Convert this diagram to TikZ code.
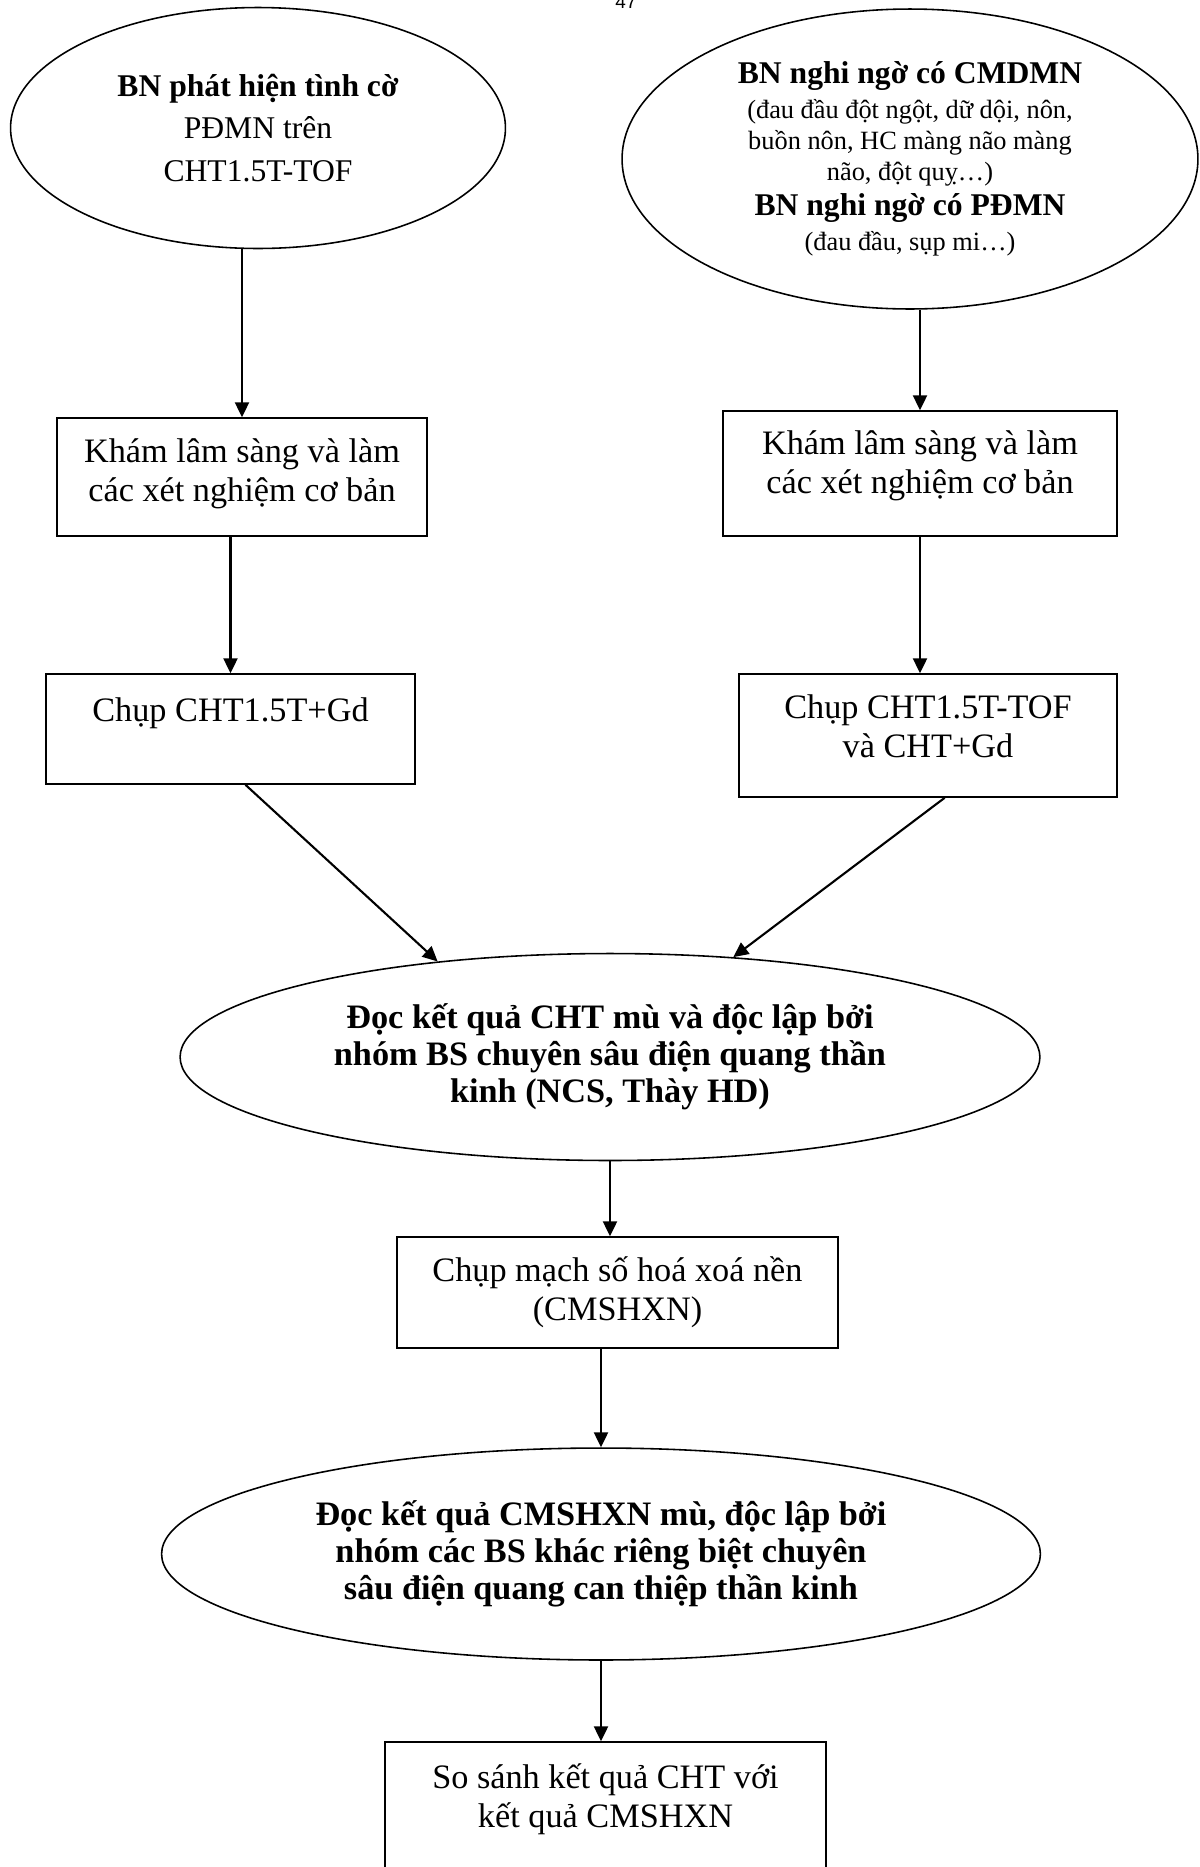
\documentclass[tikz,border=0pt]{standalone}
\usepackage{fontspec}
\setmainfont{Liberation Serif}
\newfontfamily\pagefont{Liberation Sans}
\usetikzlibrary{shapes.geometric,arrows.meta}

\begin{document}
\begin{tikzpicture}[x=0.02cm, y=-0.02cm,
    stepbox/.style={draw, line width=0.9pt, rectangle, inner sep=0pt, align=center,
        font=\fontsize{19.5}{22}\selectfont},
    oval/.style={draw, line width=0.9pt, ellipse, inner sep=0pt, align=center,
        font=\fontsize{19.5}{21}\selectfont\bfseries},
    arr/.style={line width=1.2pt, -{Triangle[length=8.5pt, width=8pt]}}]
    \useasboundingbox (0,0) rectangle (1200,1867);

    \node[font=\pagefont\fontsize{10.8}{12}\selectfont, anchor=base, inner sep=0pt] (pagenum) at (626,8) {47};

    \node[oval, font=\fontsize{18}{24}\selectfont, minimum width=9.9cm, minimum height=4.82cm] (found) at (258,128)
        {\textbf{BN phát hiện tình cờ}\\PĐMN trên\\CHT1.5T-TOF};
    \node[oval, font=\fontsize{15}{17.5}\selectfont, minimum width=11.52cm, minimum height=6cm] (suspect) at (910,159)
        {{\fontsize{18}{20}\selectfont\bfseries BN nghi ngờ có CMDMN}\\[2.5pt]
         (đau đầu đột ngột, dữ dội, nôn,\\buồn nôn, HC màng não màng\\não, đột quỵ…)\\[2.5pt]
         {\fontsize{18}{20}\selectfont\bfseries BN nghi ngờ có PĐMN}\\[2.5pt]
         (đau đầu, sụp mi…)};

    \node[stepbox, text depth=8pt, minimum width=7.4cm, minimum height=2.36cm] (exam1) at (242,477)
        {Khám lâm sàng và làm\\các xét nghiệm cơ bản};
    \node[stepbox, text depth=13pt, minimum width=7.88cm, minimum height=2.5cm] (exam2) at (920,473.5)
        {Khám lâm sàng và làm\\các xét nghiệm cơ bản};

    \node[stepbox, minimum width=7.38cm, minimum height=2.2cm] (mri1) at (230.5,729)
        {Chụp CHT1.5T+Gd\\\mbox{}};
    \node[stepbox, text depth=11pt, minimum width=7.56cm, minimum height=2.46cm] (mri2) at (928,735.5)
        {Chụp CHT1.5T-TOF\\và CHT+Gd};

    \node[oval, minimum width=17.2cm, minimum height=4.14cm] (readmr) at (610,1057)
        {Đọc kết quả CHT mù và độc lập bởi\\nhóm BS chuyên sâu điện quang thần\\kinh (NCS, Thày HD)};

    \node[stepbox, minimum width=8.82cm, minimum height=2.22cm] (dsa) at (617.5,1292.5)
        {Chụp mạch số hoá xoá nền\\(CMSHXN)};

    \node[oval, minimum width=17.58cm, minimum height=4.24cm] (readdsa) at (601,1554)
        {Đọc kết quả CMSHXN mù, độc lập bởi\\nhóm các BS khác riêng biệt chuyên\\sâu điện quang can thiệp thần kinh};

    \node[stepbox, minimum width=8.82cm, minimum height=2.92cm] (compare) at (605.5,1815)
        {So sánh kết quả CHT với\\kết quả CMSHXN\\\mbox{}};

    \draw[arr] (found.south -| exam1.north) -- (exam1.north);
    \draw[arr] (suspect.south -| exam2.north) -- (exam2.north);
    \draw[arr] (exam1.south -| mri1.north) -- (mri1.north);
    \draw[arr] (exam2.south) -- (exam2.south |- mri2.north);
    \draw[arr] (mri1.-75) -- (readmr.151);
    \draw[arr] (mri2.-75) -- (readmr.39);
    \draw[arr] (readmr.south) -- (readmr.south |- dsa.north);
    \draw[arr] (dsa.south -| readdsa.north) -- (readdsa.north);
    \draw[arr] (readdsa.south) -- (readdsa.south |- compare.north);
\end{tikzpicture}
\end{document}
